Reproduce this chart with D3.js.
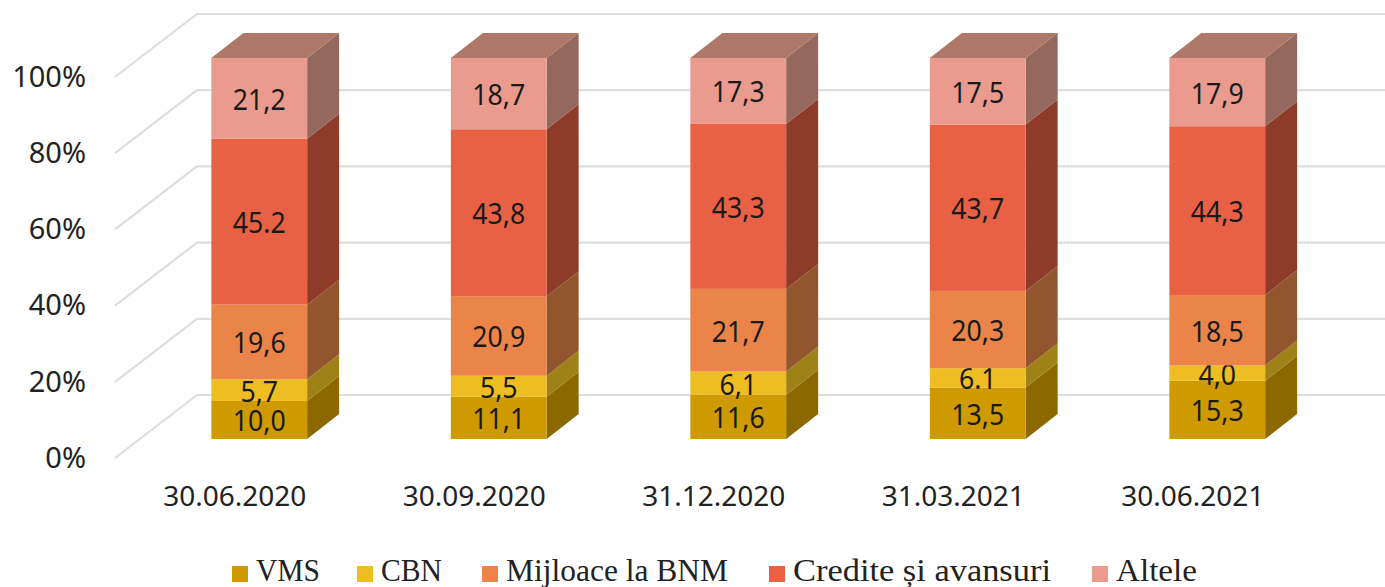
<!DOCTYPE html>
<html>
<head>
<meta charset="utf-8">
<script src="https://cdn.jsdelivr.net/npm/d3@7"></script>
<style>
html, body { margin: 0; padding: 0; background: #fff; }
svg { display: block; }
</style>
</head>
<body>
<svg id="chart" width="1385" height="587"></svg>
<script>
// Data
const categories = ["30.06.2020", "30.09.2020", "31.12.2020", "31.03.2021", "30.06.2021"];
const seriesNames = ["VMS", "CBN", "Mijloace la BNM", "Credite și avansuri", "Altele"];
const vms = [10.0, 11.1, 11.6, 13.5, 15.3];
const cbn = [5.7, 5.5, 6.1, 5.1, 4.0];
const mijloace = [19.6, 20.9, 21.7, 20.3, 18.5];
const credite = [43.6, 43.8, 43.3, 43.7, 44.3];
const altele = [21.2, 18.7, 17.3, 17.5, 17.9];
const yTicks = [0, 0.2, 0.4, 0.6, 0.8, 1];
// two labels in the source don't agree with the height of their segment
const labelOverrides = {
    "Credite și avansuri|30.06.2020": "45.2",
    "CBN|31.03.2021": "6.1"
};

const frontColors = ["#cf9a00", "#edbd22", "#ea8448", "#e86144", "#ea9b8e"];
const sideColors = ["#8b6800", "#9f8217", "#92562f", "#8f3b2a", "#94685c"];
const topColor = "#ae7868";

const allValues = [vms, cbn, mijloace, credite, altele];
const rows = categories.map((c, i) => {
    const row = { category: c };
    seriesNames.forEach((s, j) => { row[s] = allValues[j][i]; });
    return row;
});

// 100% stacked bars
const stacked = d3.stack().keys(seriesNames).offset(d3.stackOffsetExpand)(rows);

const svg = d3.select("#chart");

const x = d3.scaleBand()
    .domain(categories)
    .range([139.5, 1337])
    .paddingInner(0.6)
    .paddingOuter(0.3);

// y of the bar fronts, and of the floor edge where the axis labels sit
const y = d3.scaleLinear().domain([0, 1]).range([439, 58]);
const yFloor = d3.scaleLinear().domain([0, 1]).range([458, 77]);
const depthX = 32, depthY = 25;   // how far the bar goes back
const wallX = 197, floorX = 115, wallY = 63;

// Grid lines: floor diagonal, then along the back wall
svg.append("g")
    .selectAll("path")
    .data(yTicks)
    .enter().append("path")
    .attr("fill", "none")
    .attr("stroke", "#dedede")
    .attr("stroke-width", 2.2)
    .attr("d", t => d3.line()([
        [floorX, yFloor(t)],
        [wallX, yFloor(t) - wallY],
        [1385, yFloor(t) - wallY]
    ]));

// Y axis labels
const yAxis = svg.append("g")
    .attr("transform", "translate(86,0)")
    .call(d3.axisLeft(yFloor).tickValues(yTicks).tickFormat(d3.format(".0%")).tickSize(0).tickPadding(0));
yAxis.select(".domain").remove();
yAxis.selectAll("text")
    .attr("fill", "#222")
    .style("font-family", "'Noto Sans'")
    .style("font-size", "29px");

// X axis labels, they sit a bit left of the bars in the source
const xAxis = svg.append("g")
    .attr("transform", "translate(-24.5,497)")
    .call(d3.axisBottom(x).tickSize(0).tickPadding(0));
xAxis.select(".domain").remove();
xAxis.selectAll("text")
    .attr("dy", "0.32em")
    .attr("fill", "#222")
    .style("font-family", "'Noto Sans'")
    .style("font-size", "28px");

// Bars
const layers = svg.append("g")
    .selectAll("g")
    .data(stacked)
    .enter().append("g");

// side faces
layers.selectAll("path.side")
    .data(d => d.map(v => ({ v: v, key: d.key, index: d.index })))
    .enter().append("path")
    .attr("class", "side")
    .attr("fill", d => sideColors[d.index])
    .attr("d", d => {
        const r = x(d.v.data.category) + x.bandwidth();
        return d3.line()([
            [r, y(d.v[0])],
            [r + depthX, y(d.v[0]) - depthY],
            [r + depthX, y(d.v[1]) - depthY],
            [r, y(d.v[1])]
        ]) + "Z";
    });

// front faces
layers.selectAll("rect")
    .data(d => d.map(v => ({ v: v, key: d.key, index: d.index })))
    .enter().append("rect")
    .attr("x", d => x(d.v.data.category))
    .attr("y", d => y(d.v[1]))
    .attr("width", x.bandwidth())
    .attr("height", d => y(d.v[0]) - y(d.v[1]))
    .attr("fill", d => frontColors[d.index]);

// top faces of the last series
svg.append("g")
    .selectAll("path")
    .data(categories)
    .enter().append("path")
    .attr("fill", topColor)
    .attr("d", c => {
        const l = x(c), r = l + x.bandwidth(), t = y(1);
        return d3.line()([
            [l, t],
            [l + depthX, t - depthY],
            [r + depthX, t - depthY],
            [r, t]
        ]) + "Z";
    });

// Value labels, narrower and taller than the installed fonts so squeeze them
layers.selectAll("text")
    .data(d => d.map(v => ({ v: v, key: d.key, index: d.index })))
    .enter().append("text")
    .attr("transform", d => {
        const cx = x(d.v.data.category) + x.bandwidth() / 2;
        const cy = (y(d.v[0]) + y(d.v[1])) / 2 + 1;
        return `translate(${cx},${cy}) scale(0.92,1)`;
    })
    .attr("dy", "0.36em")
    .attr("text-anchor", "middle")
    .attr("fill", "#1a1a1a")
    .style("font-family", "'Noto Sans'")
    .style("font-size", "29px")
    .text(d => {
        const fixed = labelOverrides[d.key + "|" + d.v.data.category];
        return fixed || d.v.data[d.key].toFixed(1).replace(".", ",");
    });

// Legend
const legendX = [232, 357, 482, 769, 1092];
const legendTextWidth = [64, 61, 222, 258, 81];
const legend = svg.append("g")
    .selectAll("g")
    .data(seriesNames)
    .enter().append("g")
    .attr("transform", (d, i) => `translate(${legendX[i]},566)`);

legend.append("rect")
    .attr("width", 16)
    .attr("height", 16)
    .attr("fill", (d, i) => frontColors[i]);

legend.append("text")
    .attr("x", 24)
    .attr("y", 15)
    .attr("fill", "#222")
    .attr("textLength", (d, i) => legendTextWidth[i])
    .attr("lengthAdjust", "spacingAndGlyphs")
    .style("font-family", "'Liberation Serif'")
    .style("font-size", "31px")
    .text(d => d);
</script>
</body>
</html>
